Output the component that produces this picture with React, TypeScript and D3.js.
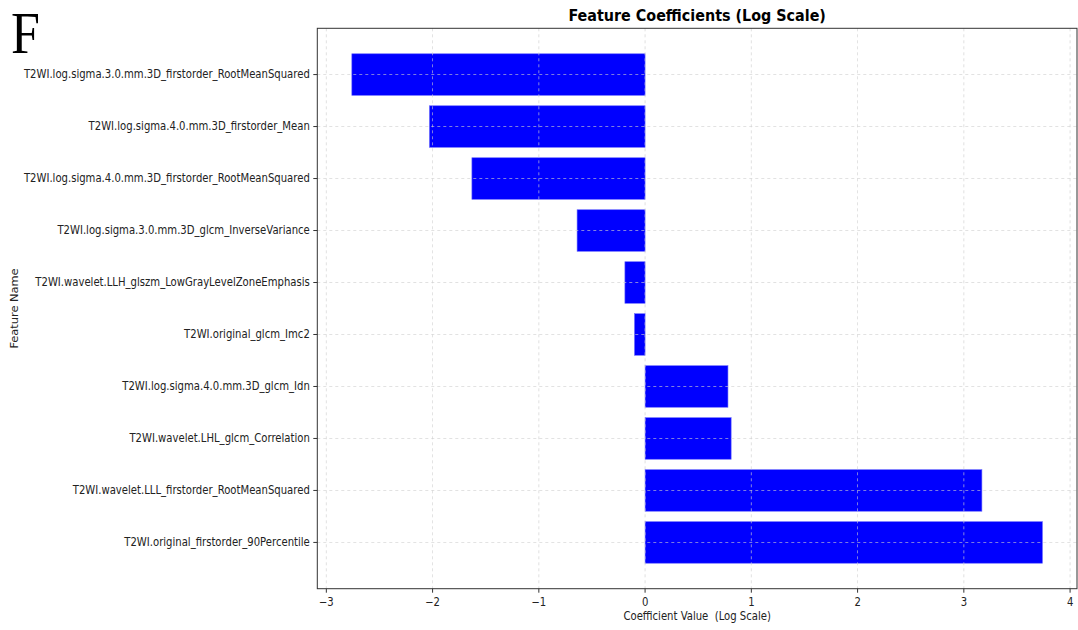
import React from "react";
import * as d3 from "d3";

const features: string[] = [
  "T2WI.log.sigma.3.0.mm.3D_firstorder_RootMeanSquared",
  "T2WI.log.sigma.4.0.mm.3D_firstorder_Mean",
  "T2WI.log.sigma.4.0.mm.3D_firstorder_RootMeanSquared",
  "T2WI.log.sigma.3.0.mm.3D_glcm_InverseVariance",
  "T2WI.wavelet.LLH_glszm_LowGrayLevelZoneEmphasis",
  "T2WI.original_glcm_Imc2",
  "T2WI.log.sigma.4.0.mm.3D_glcm_Idn",
  "T2WI.wavelet.LHL_glcm_Correlation",
  "T2WI.wavelet.LLL_firstorder_RootMeanSquared",
  "T2WI.original_firstorder_90Percentile",
];
const coefficients: number[] = [-2.76, -2.03, -1.63, -0.64, -0.19, -0.1, 0.78, 0.81, 3.17, 3.74];
const xTicks: number[] = [-3, -2, -1, 0, 1, 2, 3, 4];

const W = 1078;
const H = 630;
const L = 317.3;
const R = 1077;
const T = 28.3;
const B = 588.7;
const SX = 0.885;
const FS = 11.4;
const FONT = "DejaVu Sans";

export default function App() {
  const minV = Math.min(0, d3.min(coefficients)!);
  const maxV = Math.max(0, d3.max(coefficients)!);
  const mx = (maxV - minV) * 0.05;
  const x = d3.scaleLinear().domain([minV - mx, maxV + mx]).range([L, R]);
  const n = features.length;
  const lo = -0.4, hi = n - 1 + 0.4;
  const my = (hi - lo) * 0.05;
  const y = d3.scaleLinear().domain([lo - my, hi + my]).range([T, B]);
  const bh = y(0.8) - y(0);
  const grid = "#d0d0d0";

  const txt = (
    key: string,
    px: number,
    py: number,
    s: string,
    anchor: string,
    extra: any = {}
  ) => (
    <text
      key={key}
      transform={`translate(${px},${py}) scale(${SX},1)`}
      textAnchor={anchor}
      dominantBaseline="central"
      fontFamily={FONT}
      fontSize={FS}
      fill="#222"
      {...extra}
    >
      {s}
    </text>
  );

  return (
    <svg
      width={W}
      height={H}
      style={{ position: "absolute", left: 0, top: 0, background: "#fff" }}
    >
      <rect x={0} y={0} width={W} height={H} fill="#fff" />
      <text
        transform={`translate(11,53) scale(0.88,1)`}
        fontFamily="Liberation Serif"
        fontSize={59}
        fill="#000"
      >
        F
      </text>
      {coefficients.map((v, i) => (
        <rect
          key={"b" + i}
          x={Math.min(x(0), x(v))}
          y={y(i) - bh / 2}
          width={Math.abs(x(v) - x(0))}
          height={bh}
          fill="#0000ff"
          stroke="#6f6fff"
          strokeWidth={0.6}
        />
      ))}
      {xTicks.map((t) => (
        <line
          key={"gx" + t}
          x1={x(t)}
          x2={x(t)}
          y1={T}
          y2={B}
          stroke={grid}
          strokeDasharray="3,3"
          strokeWidth={0.8}
          opacity={0.8}
        />
      ))}
      {features.map((f, i) => (
        <line
          key={"gy" + i}
          x1={L}
          x2={R}
          y1={y(i)}
          y2={y(i)}
          stroke={grid}
          strokeDasharray="3,3"
          strokeWidth={0.8}
          opacity={0.8}
        />
      ))}
      <rect x={L} y={T} width={R - L} height={B - T} fill="none" stroke="#333" strokeWidth={1} />
      {xTicks.map((t) => (
        <g key={"tx" + t}>
          <line x1={x(t)} x2={x(t)} y1={B} y2={B + 4} stroke="#333" strokeWidth={1} />
          {txt("lx" + t, x(t), B + 13.5, t < 0 ? "\u2212" + Math.abs(t) : String(t), "middle")}
        </g>
      ))}
      {features.map((f, i) => (
        <g key={"ty" + i}>
          <line x1={L - 4} x2={L} y1={y(i)} y2={y(i)} stroke="#333" strokeWidth={1} />
          {txt("ly" + i, L - 7.5, y(i), f, "end")}
        </g>
      ))}
      {txt("xl", (L + R) / 2, 616, "Coefficient Value  (Log Scale)", "middle", { style: { whiteSpace: "pre" } })}
      <text
        transform={`translate(15,${(T + B) / 2}) rotate(-90) scale(1,${SX})`}
        textAnchor="middle"
        dominantBaseline="central"
        fontFamily={FONT}
        fontSize={FS}
        fill="#222"
      >
        Feature Name
      </text>
      {txt("title", (L + R) / 2, 16, "Feature Coefficients (Log Scale)", "middle", {
        fontWeight: "bold",
        fontSize: 16.2,
        fill: "#000",
      })}
    </svg>
  );
}
